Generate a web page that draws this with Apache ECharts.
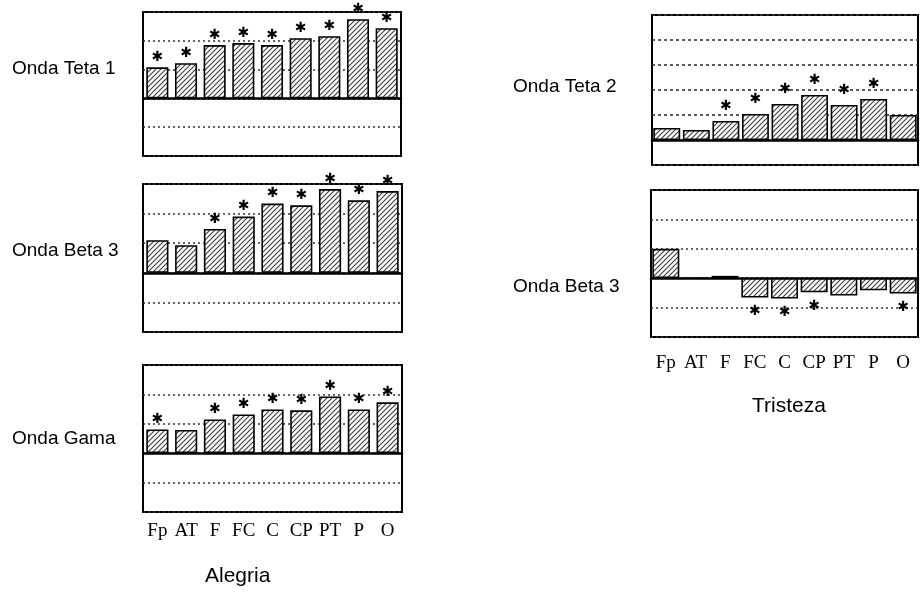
<!DOCTYPE html>
<html>
<head>
<meta charset="utf-8">
<script src="https://cdn.jsdelivr.net/npm/echarts@6/dist/echarts.min.js"></script>
<style>
  html, body { margin: 0; padding: 0; background: #fff; }
  #chart { width: 922px; height: 601px; }
</style>
</head>
<body>
<div id="chart"></div>
<script>
// Electrode sites along the x axis
const categories = ['Fp', 'AT', 'F', 'FC', 'C', 'CP', 'PT', 'P', 'O'];

// Alegria (joy) panels
const tetaAlegria = [1.08, 1.22, 1.85, 1.92, 1.85, 2.09, 2.16, 2.75, 2.44];
const tetaAlegriaSig = [1, 1, 1, 1, 1, 1, 1, 1, 1];
const betaAlegria = [1.10, 0.93, 1.48, 1.90, 2.34, 2.28, 2.83, 2.45, 2.76];
const betaAlegriaSig = [0, 0, 1, 1, 1, 1, 1, 1, 1];
const gamaAlegria = [0.81, 0.79, 1.15, 1.32, 1.49, 1.46, 1.93, 1.49, 1.73];
const gamaAlegriaSig = [1, 0, 1, 1, 1, 1, 1, 1, 1];

// Tristeza (sadness) panels
const tetaTristeza = [0.48, 0.40, 0.76, 1.04, 1.44, 1.80, 1.40, 1.64, 1.00];
const tetaTristezaSig = [0, 0, 1, 1, 1, 1, 1, 1, 0];
const betaTristeza = [1.00, 0, 0.08, -0.66, -0.69, -0.48, -0.59, -0.41, -0.52];
const betaTristezaSig = [0, 0, 0, 1, 1, 1, 0, 0, 1];

// Diagonal hatch used to fill the bars
function hatchPattern() {
  const c = document.createElement('canvas');
  c.width = 5; c.height = 5;
  const ctx = c.getContext('2d');
  ctx.fillStyle = '#fff';
  ctx.fillRect(0, 0, 5, 5);
  ctx.strokeStyle = '#3a3a3a';
  ctx.lineWidth = 1.1;
  ctx.beginPath(); ctx.moveTo(-1, 6); ctx.lineTo(6, -1); ctx.stroke();
  ctx.beginPath(); ctx.moveTo(-1, 1); ctx.lineTo(1, -1); ctx.stroke();
  ctx.beginPath(); ctx.moveTo(4, 6); ctx.lineTo(6, 4); ctx.stroke();
  return c;
}
const hatch = { image: hatchPattern(), repeat: 'repeat' };

// Panel layout: grid box plus y range of each panel
const panels = [
  { name: 'Onda Teta 1', values: tetaAlegria, sig: tetaAlegriaSig, grid: { left: 143, top: 12, width: 258, height: 144 }, min: -2, max: 3, gap: '23%', starGap: 3, dash: [2, 3], labels: false },
  { name: 'Onda Beta 3', values: betaAlegria, sig: betaAlegriaSig, grid: { left: 143, top: 184, width: 259, height: 148 }, min: -2, max: 3, gap: '23%', starGap: 3, dash: [2, 3], labels: false },
  { name: 'Onda Gama', values: gamaAlegria, sig: gamaAlegriaSig, grid: { left: 143, top: 365, width: 259, height: 147 }, min: -2, max: 3, gap: '23%', starGap: 3, dash: [2, 3], labels: true },
  { name: 'Onda Teta 2', values: tetaTristeza, sig: tetaTristezaSig, grid: { left: 652, top: 15, width: 266, height: 150 }, min: -1, max: 5, gap: '9%', starGap: 8, dash: [3, 3], labels: false },
  { name: 'Onda Beta 3', values: betaTristeza, sig: betaTristezaSig, grid: { left: 651, top: 190, width: 267, height: 147 }, min: -2, max: 3, gap: '9%', starGap: 8, dash: [2, 3], labels: true }
];

const grids = [], xAxes = [], yAxes = [], series = [];
panels.forEach((p, i) => {
  grids.push(Object.assign({ show: true, borderColor: '#000', borderWidth: 2, backgroundColor: '#fff' }, p.grid));
  // zero line axis
  xAxes.push({
    type: 'category', gridIndex: i, data: categories,
    axisLine: { show: true, onZero: true, lineStyle: { color: '#000', width: 2.5 } },
    axisTick: { show: false }, axisLabel: { show: false }, splitLine: { show: false }
  });
  yAxes.push({
    type: 'value', gridIndex: i, min: p.min, max: p.max, interval: 1,
    axisLine: { show: false }, axisTick: { show: false }, axisLabel: { show: false },
    splitLine: { show: true, lineStyle: { color: '#333', width: 1.6, type: p.dash } }
  });
  series.push({
    type: 'bar', xAxisIndex: xAxes.length - 1, yAxisIndex: i,
    // negative bars carry their significance mark below the bar
    data: p.values.map(v => (v < 0 ? { value: v, label: { position: 'bottom', distance: 7 } } : v)),
    barCategoryGap: p.gap,
    itemStyle: { color: hatch, borderColor: '#000', borderWidth: 1.6 },
    label: {
      show: true,
      position: 'top',
      distance: p.starGap,
      fontFamily: 'DejaVu Sans', fontSize: 14, lineHeight: 14, color: '#000',
      formatter: (params) => (p.sig[params.dataIndex] ? '\u2731' : '')
    },
    silent: true, animation: false
  });
  if (p.labels) {
    xAxes.push({
      type: 'category', gridIndex: i, data: categories, position: 'bottom',
      axisLine: { show: false, onZero: false }, axisTick: { show: false },
      axisLabel: {
        show: true, interval: 0, hideOverlap: false,
        margin: i === 2 ? 10 : 17, fontFamily: 'Liberation Serif', fontSize: 19, color: '#000'
      },
      splitLine: { show: false }
    });
  }
});

const titleStyle = { fontFamily: 'Liberation Sans', fontSize: 19, fontWeight: 'normal', color: '#000' };
const titles = [
  { text: 'Onda Teta 1', left: 12, top: 59 },
  { text: 'Onda Beta 3', left: 12, top: 241 },
  { text: 'Onda Gama', left: 12, top: 429 },
  { text: 'Onda Teta 2', left: 513, top: 77 },
  { text: 'Onda Beta 3', left: 513, top: 277 },
  { text: 'Alegria', left: 205, top: 566, textStyle: Object.assign({}, titleStyle, { fontSize: 21 }) },
  { text: 'Tristeza', left: 752, top: 396, textStyle: Object.assign({}, titleStyle, { fontSize: 21 }) }
].map(t => Object.assign({ padding: 0, textStyle: titleStyle }, t));

const chart = echarts.init(document.getElementById('chart'), null, { renderer: 'canvas' });
chart.setOption({
  backgroundColor: '#fff',
  animation: false,
  title: titles,
  grid: grids,
  xAxis: xAxes,
  yAxis: yAxes,
  series: series
});
</script>
</body>
</html>
